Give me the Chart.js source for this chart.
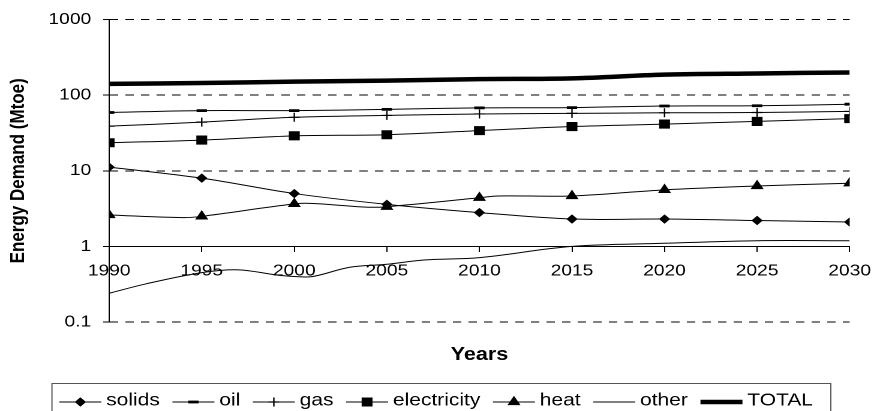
<!DOCTYPE html>
<html>
<head>
<meta charset="utf-8">
<script src="https://cdn.jsdelivr.net/npm/chart.js@4/dist/chart.umd.min.js"></script>
<style>
  html, body { margin: 0; padding: 0; background: #fff; overflow: hidden; }
  /* the chart is laid out 736px wide and widened to the full 883px page */
  #wrap { position: absolute; left: 0; top: 0; width: 736px; height: 411px;
          transform: scale(1.19973, 1); transform-origin: 0 0; }
</style>
</head>
<body>
<div id="wrap"><canvas id="c"></canvas></div>
<script>
// Years with readings (markers are drawn on the five-year steps only)
const years = [1990, 1992, 1994, 1995, 1997, 1999, 2000, 2001, 2003, 2004, 2005, 2007, 2010, 2011, 2015, 2020, 2025, 2030];

// Energy demand by carrier, Mtoe (null = no reading for that year)
const solids      = [11.2, null, null, 8.0,  null, null, 5.0,  null, null, null, 3.6,  null, 2.8,  null, 2.3,  2.3,  2.2,  2.1];
const oil         = [59,   null, null, 62.5, null, null, 62.5, null, null, null, 65,   null, 68,   null, 68.5, 72,   72.5, 76];
const gas         = [39,   null, null, 44,   null, null, 51,   null, null, null, 54,   null, 56.5, null, 57.5, 58.5, 59,   61];
const electricity = [23.5, null, null, 25.5, null, null, 29,   null, null, null, 30,   null, 34,   null, 38.5, 41.5, 45,   49];
const heat        = [2.6,  null, 2.4,  2.5,  null, null, 3.65, 3.7,  null, 3.3,  3.35, null, 4.4,  4.65, 4.65, 5.6,  6.3,  6.85];
const other       = [0.24, 0.32, null, 0.45, 0.49, 0.42, 0.40, 0.40, 0.53, null, 0.58, 0.66, 0.71, null, 1.0,  1.1,  1.19, 1.19];
const total       = [141,  null, null, 145,  null, null, 151,  null, null, null, 156,  null, 163,  null, 167,  187,  194,  200];

const xTicks = [1990, 1995, 2000, 2005, 2010, 2015, 2020, 2025, 2030];
const yTicks = [0.1, 1, 10, 100, 1000];
const yTickLabels = ['0.1', '1', '10', '100', '1000'];
const xTitle = 'Years';
const yTitle = 'Energy Demand (Mtoe)';

const FONT = '"Liberation Sans", Arial, Helvetica, sans-serif';
Chart.defaults.font.family = FONT;
Chart.defaults.color = '#000';

function series(label, data, style, radius, lineWidth, markerWidth) {
  return {
    label, data,
    borderColor: '#000',
    backgroundColor: '#000',
    borderWidth: lineWidth,
    pointStyle: style,
    pointBackgroundColor: '#000',
    pointBorderColor: '#000',
    pointBorderWidth: markerWidth,
    markerRadius: radius,
    pointRadius: ctx => (radius && years[ctx.dataIndex] % 5 === 0 ? radius : 0),
    pointHoverRadius: ctx => (radius && years[ctx.dataIndex] % 5 === 0 ? radius : 0),
    spanGaps: true,
    tension: 0.35,
    fill: false
  };
}

const datasets = [
  series('solids', solids, 'rectRot', 4, 1, 1),
  series('oil', oil, 'line', 4.3, 1, 2.8),
  series('gas', gas, 'cross', 4.5, 1, 1.2),
  series('electricity', electricity, 'rect', 5.7, 1, 1),
  series('heat', heat, 'triangle', 5.3, 1, 1),
  series('other', other, false, 0, 1, 1),
  series('TOTAL', total, false, 0, 4.5, 1)
];

// Boxed legend under the plot plus the horizontal axis caption
const legendBox = {
  id: 'legendBox',
  afterDraw(chart) {
    const ctx = chart.ctx;
    const area = chart.chartArea;
    ctx.save();
    ctx.fillStyle = '#000';
    ctx.font = 'bold 18px ' + FONT;
    ctx.textAlign = 'center';
    ctx.textBaseline = 'alphabetic';
    ctx.fillText(xTitle, (area.left + area.right) / 2, 360);

    const boxLeft = 43.3, boxRight = 692.5, boxTop = 383.5;
    ctx.strokeStyle = '#555';
    ctx.lineWidth = 1;
    ctx.strokeRect(boxLeft, boxTop, boxRight - boxLeft, 40);

    ctx.font = '17.5px ' + FONT;
    ctx.textAlign = 'left';
    const symLen = 35, gap = 4, spacing = 10.5, lineY = 402, textY = 405.5;
    let x = 49.5;
    chart.data.datasets.forEach(ds => {
      ctx.strokeStyle = '#000';
      ctx.fillStyle = '#000';
      ctx.lineWidth = ds.borderWidth;
      ctx.beginPath();
      ctx.moveTo(x, lineY);
      ctx.lineTo(x + symLen, lineY);
      ctx.stroke();
      if (ds.markerRadius) {
        ctx.lineWidth = ds.pointBorderWidth;
        Chart.helpers.drawPoint(ctx, {
          pointStyle: ds.pointStyle, radius: ds.markerRadius, rotation: 0,
          borderWidth: ds.pointBorderWidth
        }, x + symLen / 2, lineY);
      }
      ctx.fillStyle = '#000';
      const tx = x + symLen + gap;
      ctx.fillText(ds.label, tx, textY);
      x = tx + ctx.measureText(ds.label).width + spacing;
    });
    ctx.restore();
  }
};

new Chart(document.getElementById('c'), {
  type: 'line',
  data: { labels: years, datasets },
  plugins: [legendBox],
  options: {
    responsive: true,
    maintainAspectRatio: false,
    devicePixelRatio: 2,
    animation: false,
    layout: { padding: { left: 0, top: 19, right: 21, bottom: 89 } },
    plugins: { legend: { display: false }, tooltip: { enabled: false } },
    scales: {
      x: {
        type: 'linear',
        min: 1990, max: 2030,
        position: { y: 1 },
        afterBuildTicks: s => { s.ticks = xTicks.map(v => ({ value: v })); },
        ticks: { font: { size: 16 }, color: '#000', padding: 10, maxRotation: 0,
                 autoSkip: false, callback: v => String(v) },
        grid: { drawOnChartArea: false, drawTicks: true, color: '#000', tickLength: 5 },
        border: { display: true, color: '#000', width: 1 }
      },
      y: {
        type: 'logarithmic',
        min: 0.1, max: 1000,
        afterBuildTicks: s => { s.ticks = yTicks.map(v => ({ value: v })); },
        afterFit: s => { s.width = 91; },
        ticks: { font: { size: 16 }, color: '#000', padding: 10, autoSkip: false,
                 callback: (v, i) => yTickLabels[i] },
        grid: { color: '#000', lineWidth: 1, tickLength: 5, tickBorderDash: [] },
        border: { display: true, color: '#000', width: 1, dash: [7, 6] },
        title: { display: true, text: yTitle, color: '#000',
                 font: { size: 17, weight: 'bold' }, padding: { top: 5, bottom: 0 } }
      }
    }
  }
});
</script>
</body>
</html>
